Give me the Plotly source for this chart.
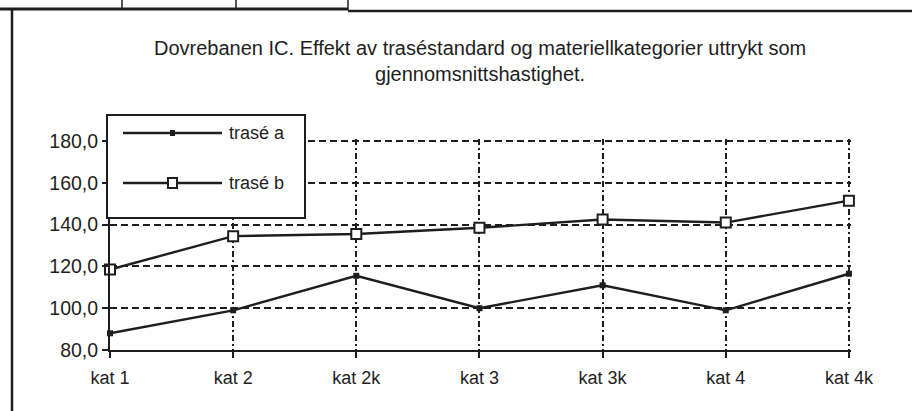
import plotly.graph_objects as go

categories = ["kat 1", "kat 2", "kat 2k", "kat 3", "kat 3k", "kat 4", "kat 4k"]
trase_a = [88.0, 99.0, 115.5, 100.0, 111.0, 99.0, 116.5]
trase_b = [118.5, 134.5, 135.5, 138.5, 142.5, 141.0, 151.5]
series_names = ["trasé a", "trasé b"]
y_tickvals = [80, 100, 120, 140, 160, 180]
y_ticktext = ["80,0", "100,0", "120,0", "140,0", "160,0", "180,0"]
title_text = ("Dovrebanen IC. Effekt av traséstandard og materiellkategorier uttrykt som"
              "<br>gjennomsnittshastighet.")

W, H = 912, 411
L, R, T, B = 110, 61, 139, 61
PW, PH = W - L - R, H - T - B
INK = "#1e1e1e"
FONT = "Liberation Sans, Arial, sans-serif"


def px(x):
    return (x - L) / PW


def py(y):
    return (H - B - y) / PH


fig = go.Figure()
fig.add_trace(go.Scatter(
    x=categories, y=trase_a, name=series_names[0], mode="lines+markers",
    line=dict(color=INK, width=2.4),
    marker=dict(symbol="square", size=6, color=INK),
    cliponaxis=False, showlegend=False))
fig.add_trace(go.Scatter(
    x=categories, y=trase_b, name=series_names[1], mode="lines+markers",
    line=dict(color=INK, width=2.4),
    marker=dict(symbol="square", size=10, color="white",
                line=dict(color=INK, width=2)),
    cliponaxis=False, showlegend=False))

shapes = []
# document frame remnants
for (x0, y0, x1, y1, w) in [(0, 9, 348, 9, 3), (348, 11, 912, 11, 2.5),
                            (12, 10, 12, 411, 2.5),
                            (122, 0, 122, 9, 1.5), (236, 0, 236, 9, 1.5),
                            (348, 0, 348, 10, 1.5)]:
    shapes.append(dict(type="line", xref="paper", yref="paper",
                       x0=px(x0), y0=py(y0), x1=px(x1), y1=py(y1),
                       line=dict(color=INK, width=w), layer="above"))
# legend box
shapes.append(dict(type="rect", xref="paper", yref="paper",
                   x0=px(107), y0=py(218), x1=px(305), y1=py(115),
                   fillcolor="white", line=dict(color=INK, width=2), layer="above"))
leg_y = [133, 183]
for i, yy in enumerate(leg_y):
    shapes.append(dict(type="line", xref="paper", yref="paper",
                       x0=px(123), y0=py(yy), x1=px(222), y1=py(yy),
                       line=dict(color=INK, width=2.4), layer="above"))
# legend markers
shapes.append(dict(type="rect", xref="paper", yref="paper",
                   x0=px(170), y0=py(leg_y[0] + 3), x1=px(175), y1=py(leg_y[0] - 3),
                   fillcolor=INK, line=dict(color=INK, width=0), layer="above"))
shapes.append(dict(type="rect", xref="paper", yref="paper",
                   x0=px(168), y0=py(leg_y[1] + 5), x1=px(177), y1=py(leg_y[1] - 5),
                   fillcolor="white", line=dict(color=INK, width=2), layer="above"))

annotations = [
    dict(text=title_text, xref="paper", yref="paper", x=px(480), y=py(61),
         xanchor="center", yanchor="middle", showarrow=False, align="center",
         font=dict(family=FONT, size=20, color=INK)),
]
for name, yy in zip(series_names, leg_y):
    annotations.append(dict(text=name, xref="paper", yref="paper", x=px(227), y=py(yy),
                            xanchor="left", yanchor="middle", showarrow=False,
                            font=dict(family=FONT, size=18, color=INK)))

fig.update_layout(
    width=W, height=H,
    margin=dict(l=L, r=R, t=T, b=B),
    paper_bgcolor="white", plot_bgcolor="white",
    showlegend=False,
    shapes=shapes, annotations=annotations,
    font=dict(family=FONT, size=18, color=INK),
)
fig.update_xaxes(
    type="category", range=[0, 6.017], fixedrange=True,
    showline=True, linecolor=INK, linewidth=2,
    ticks="outside", ticklen=6, tickwidth=2, tickcolor=INK,
    ticklabelstandoff=4,
    showgrid=True, gridcolor=INK, gridwidth=2, griddash="6px,3px,2px,3px",
    tickfont=dict(family=FONT, size=18, color=INK),
)
fig.update_yaxes(
    range=[80, 181], fixedrange=True,
    tickvals=y_tickvals, ticktext=y_ticktext,
    showline=True, linecolor=INK, linewidth=2,
    ticks="outside", ticklen=6, tickwidth=2, tickcolor=INK,
    showgrid=True, gridcolor=INK, gridwidth=2, griddash="7px,4px",
    zeroline=False,
    tickfont=dict(family=FONT, size=19.5, color=INK),
)

fig.write_html("out.html")
